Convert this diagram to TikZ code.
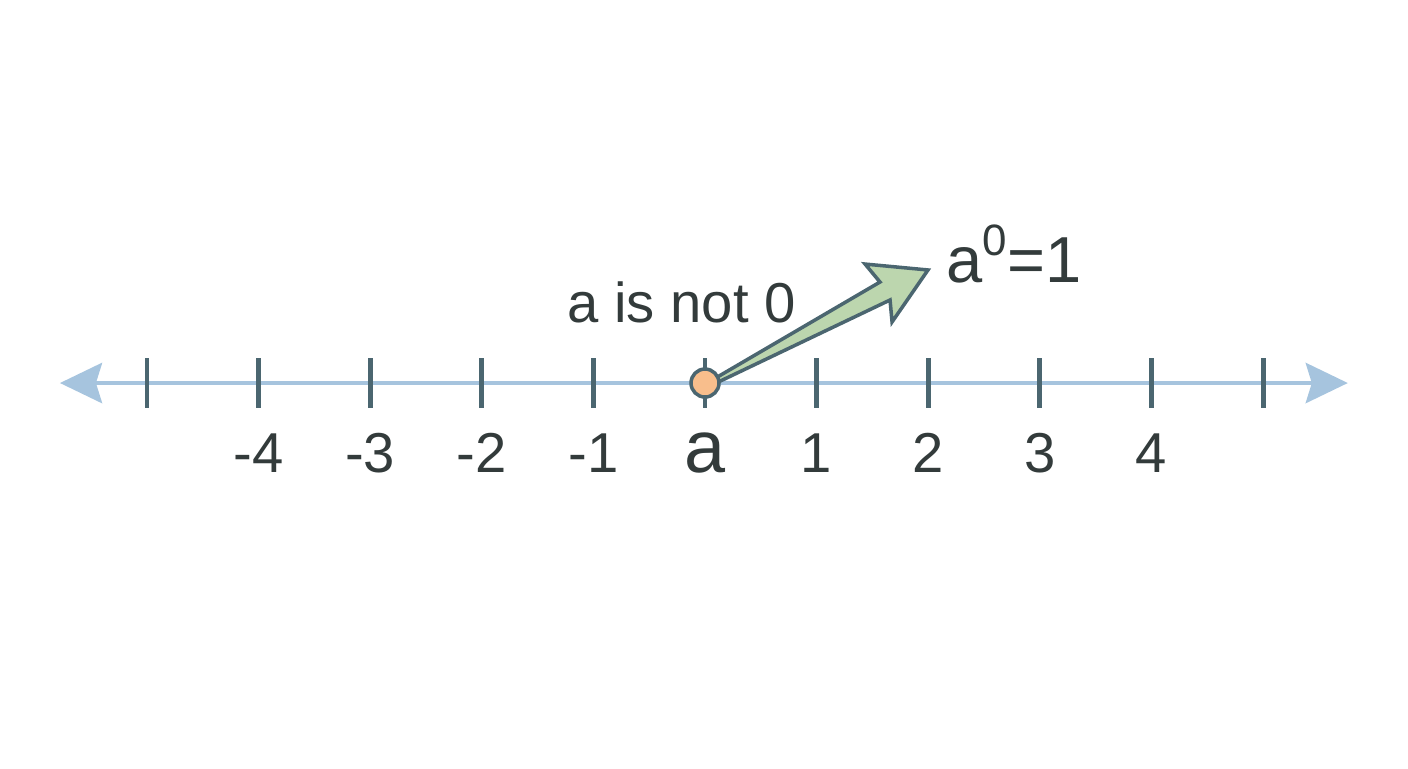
\documentclass[tikz,border=0pt]{standalone}
\usepackage{fontspec}
\setmainfont{Liberation Sans}
\usetikzlibrary{arrows.meta}
\definecolor{axisblue}{HTML}{A6C4DE}
\definecolor{tickgray}{HTML}{4B6670}
\definecolor{textgray}{HTML}{333B3B}
\definecolor{dotorange}{HTML}{F8BE8C}
\definecolor{arrowgreen}{HTML}{BCD6AE}

\begin{document}
\begin{tikzpicture}[x=1.116cm, y=1.116cm,
        numlabel/.style={anchor=base, text=textgray, font=\fontsize{16}{19}\selectfont},
        axistip/.tip={Stealth[length=0.42cm, width=0.40cm, inset=0.06cm]}]
            \useasboundingbox (-6.317,-3.450) rectangle (6.299,3.432);

            % Draw axis with arrows at both ends
            \coordinate (left) at (-5.78,0);
            \coordinate (right) at (5.76,0);
            \draw[axisblue, line width=1.4pt, axistip-axistip] (left) -- (right);

            % Ticks
            \foreach \x in {-5,...,5} {
                \draw[tickgray, line width=1.4pt] (\x,-0.22) -- (\x,0.22);
            }

            % Labels under the ticks (none at the ends)
            \foreach \x in {-4,-3,-2,-1,1,2,3,4} {
                \node[numlabel] (n\x) at (\x,-0.806) {\x};
            }
            \node[numlabel, font=\fontsize{21}{25}\selectfont] (a) at (0,-0.806) {a};

            % Labels above the axis
            \node[numlabel] (cond) at (-0.21,0.538) {a is not 0};
            \node[anchor=base west, inner sep=0pt, text=textgray, font=\fontsize{18.5}{22}\selectfont]
                (power) at (2.16,0.905) {a\raisebox{7.5pt}{\fontsize{12.5}{14}\selectfont 0}=1};

            % Green arrow from a
            \draw[tickgray, fill=arrowgreen, line width=1pt, line join=miter]
                (0.07,0.03) -- (1.568,0.905) -- (1.434,1.066) -- (1.998,1.013)
                -- (1.676,0.547) -- (1.658,0.744) -- (0.1,0.0) -- cycle;

            % Point a
            \node[circle, draw=tickgray, fill=dotorange, line width=1pt, minimum size=0.28cm, inner sep=0pt] (dot) at (0,0) {};
        \end{tikzpicture}
\end{document}
